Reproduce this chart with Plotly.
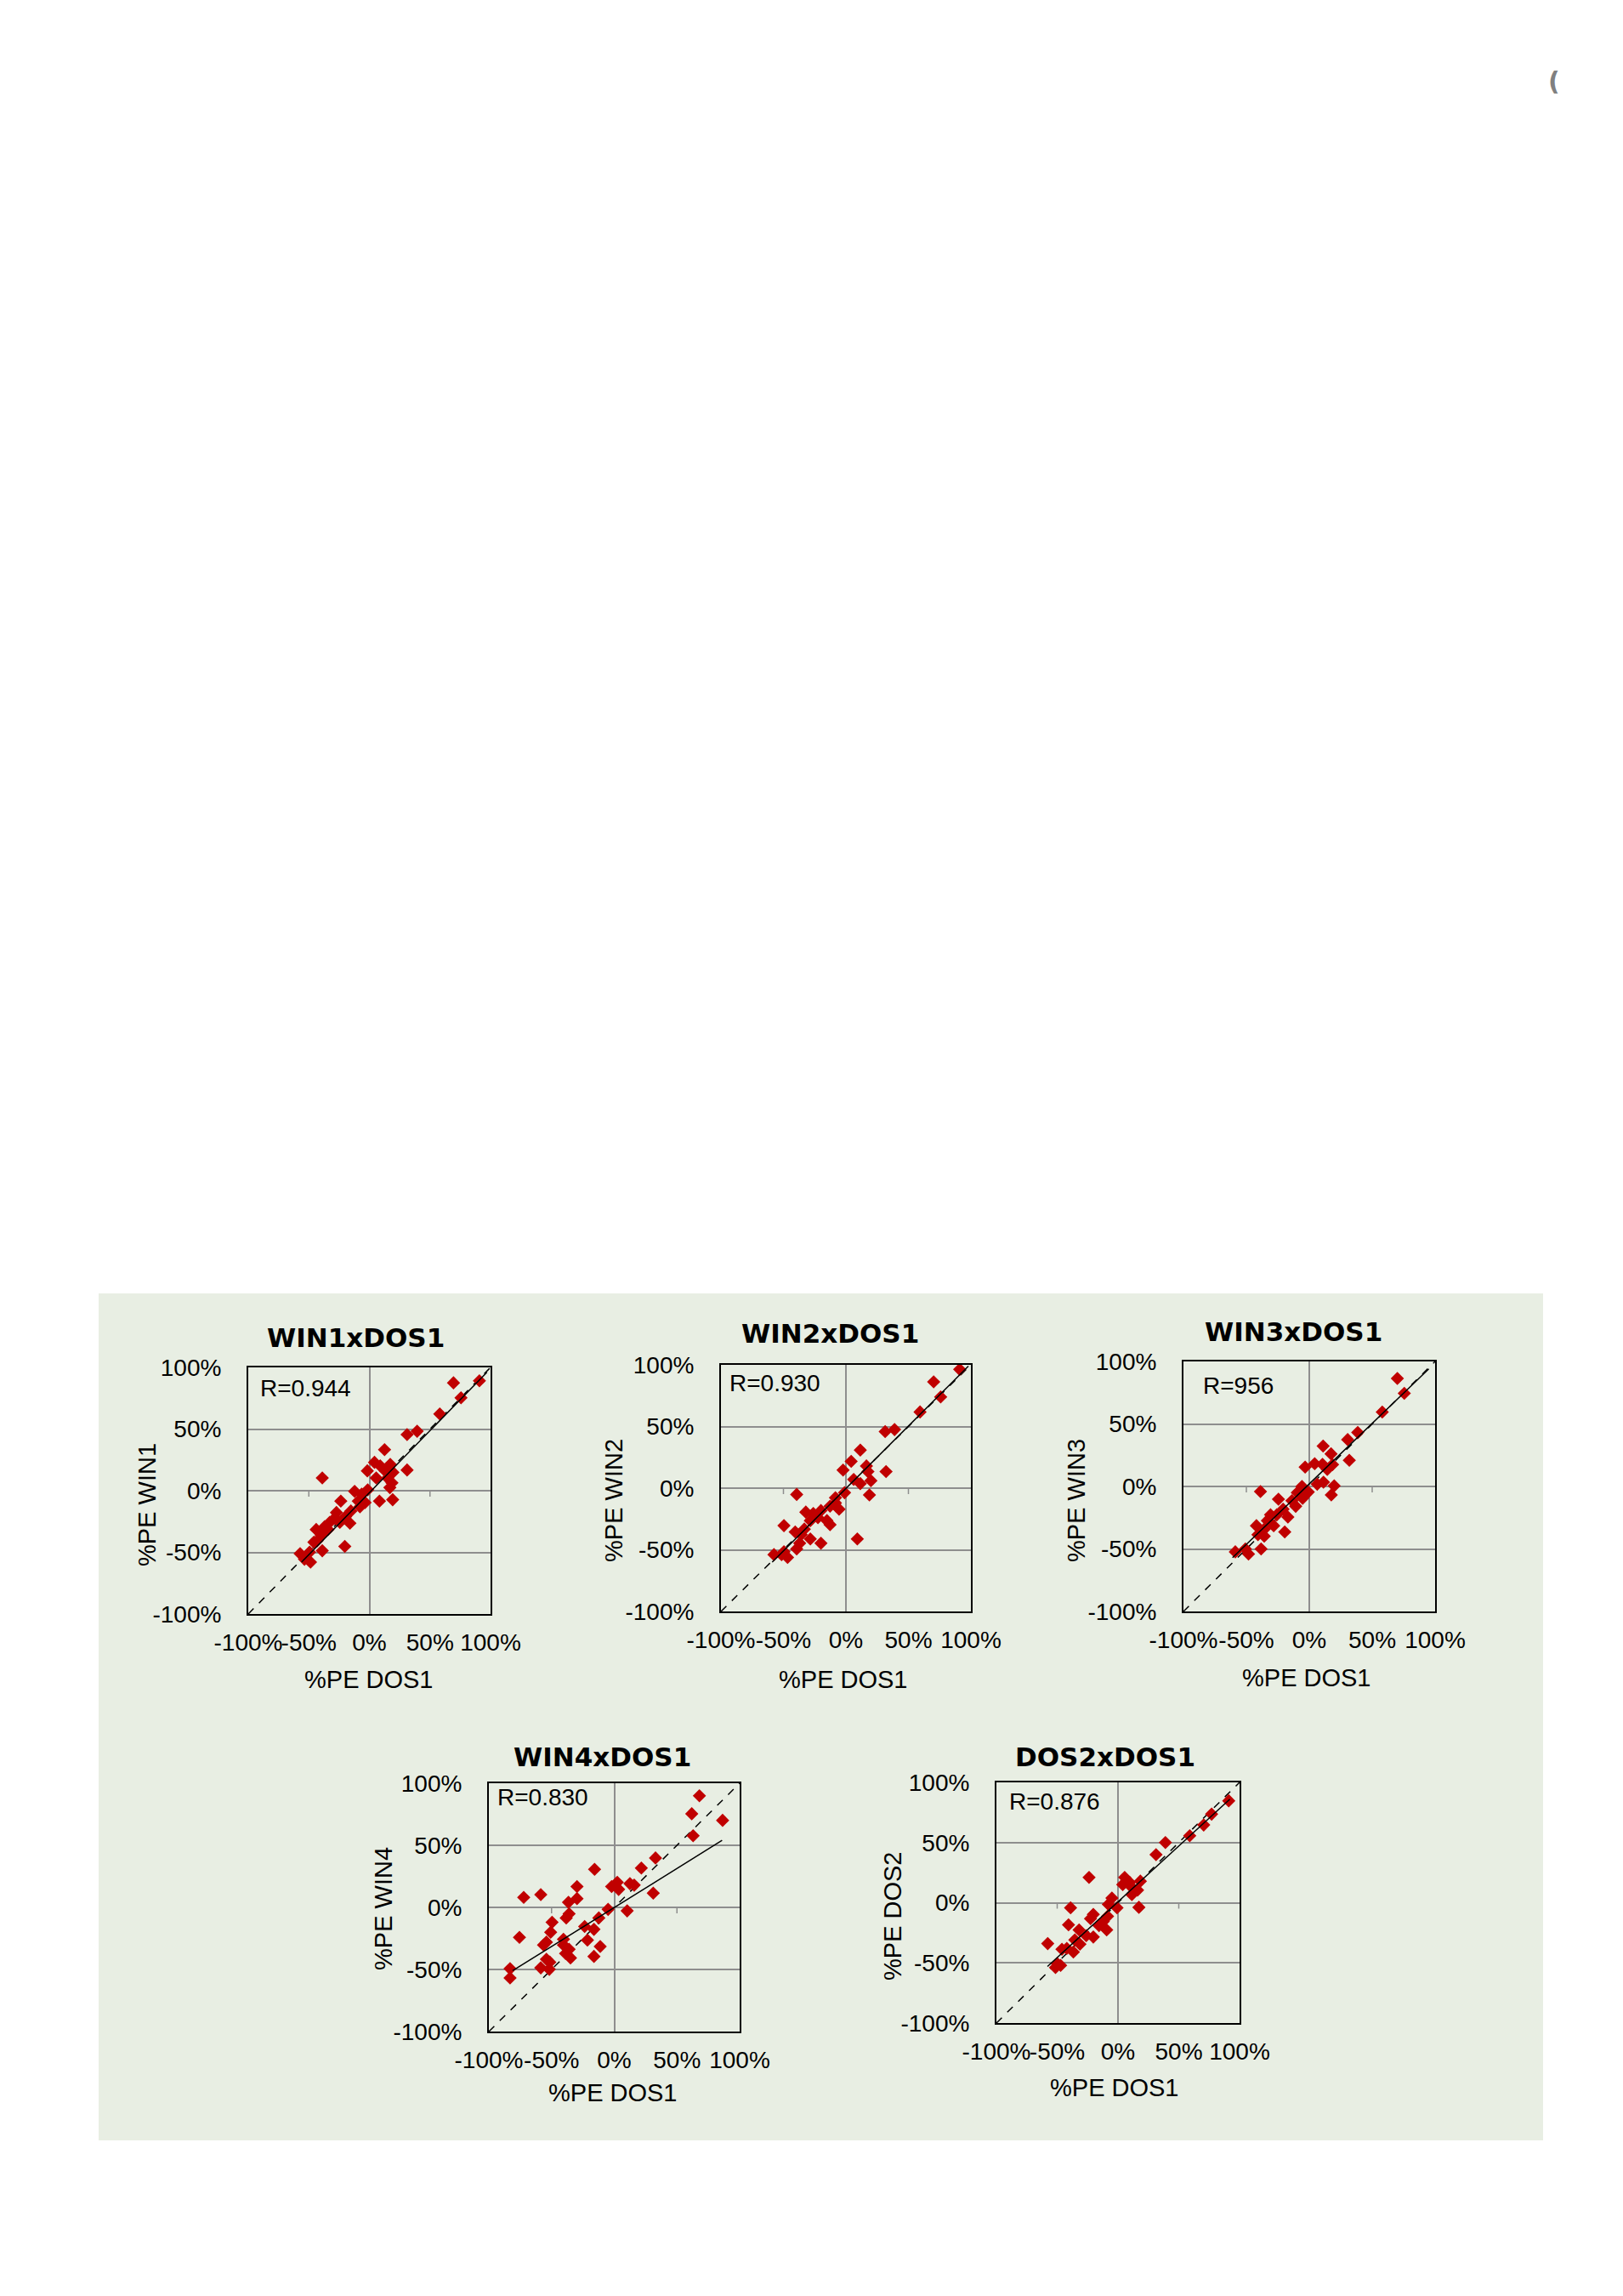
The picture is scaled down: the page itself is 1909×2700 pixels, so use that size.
import plotly.graph_objects as go

W, H = 1909, 2700

# %PE DOS1 (x) vs the other method (y)
WIN1_X = [90.8, 69.4, 75.6, 58.1, 31.1, 39.4, 12.5, 4.2, -1.7, 8.9, 17.2, 13.1, 31.1, 19.4, 5.6,
          15.0, 18.6, 16.9, -38.9, -12.2, -6.4, -1.4, 8.3, 19.2, -23.6, -9.2, -3.6, -7.8, -15.3,
          -27.2, -28.6, -19.7, -16.1, -24.4, -32.8, -36.9, -43.9, -34.2, -39.7, -43.1, -38.9,
          -20.3, -57.2, -49.4, -53.6, -48.6, -45.8]
WIN1_Y = [89.1, 87.5, 75.3, 62.2, 45.5, 48.2, 33.3, 23.0, 16.1, 20.2, 21.4, 16.1, 16.8, 14.9, 10.3,
          10.3, 6.4, 2.5, 10.3, -0.5, -2.8, 0.7, -8.5, -7.3, -8.5, -8.5, -9.6, -13.1, -16.5,
          -17.7, -22.3, -21.1, -26.4, -25.7, -25.7, -29.2, -31.5, -31.5, -36.0, -40.6, -48.7,
          -45.2, -51.0, -49.8, -55.6, -57.9, -41.8]

WIN2_X = [91.0, 70.2, 75.8, 59.3, 31.4, 38.9, 11.5, 4.2, -2.3, 32.1, 16.4, 17.6, 6.2, 11.5, 20.0,
          18.8, -1.1, -39.4, -8.4, -8.4, -5.5, -12.7, -32.1, -26.1, -20.0, -22.4, -15.2, -12.7,
          -28.5, -49.6, -40.6, -35.8, -33.3, -28.5, -37.0, -20.0, -39.4, 9.1, -57.6, -49.6,
          -46.7, -51.5]
WIN2_Y = [96.3, 86.2, 74.0, 61.8, 45.9, 47.5, 30.9, 21.7, 14.7, 13.4, 18.0, 13.4, 7.1, 3.7, 6.0,
          -5.5, -3.7, -5.1, -7.8, -12.0, -17.1, -14.7, -19.4, -20.5, -18.2, -24.0, -26.3, -29.7,
          -26.3, -30.4, -35.5, -37.8, -33.2, -41.2, -44.7, -44.7, -49.3, -41.2, -53.9, -51.6,
          -56.2, -53.9]

WIN3_X = [70.0, 75.5, 58.0, 38.5, 30.5, 31.8, 11.0, 17.3, 18.5, 4.3, -3.3, 10.5, 14.3, 11.3, 6.3,
          19.8, 17.5, -5.8, -0.8, -9.5, -38.8, -5.3, -13.8, -10.8, -24.5, -20.8, -30.8, -25.8,
          -17.0, -33.3, -28.3, -42.0, -35.8, -19.5, -40.8, -35.8, -38.3, -58.8, -50.8, -48.3]
WIN3_Y = [86.4, 74.5, 59.5, 43.2, 37.5, 20.9, 32.3, 26.1, 17.5, 18.2, 15.5, 17.7, 13.6, 3.4, 1.8,
          0.5, -6.8, 0.0, -4.5, -5.0, -4.1, -9.5, -11.4, -15.9, -10.2, -18.2, -22.7, -22.7,
          -24.5, -27.3, -31.4, -31.4, -34.1, -36.4, -38.6, -39.8, -50.0, -52.3, -50.0, -54.1]

WIN4_X = [67.9, 61.8, 86.4, 62.9, 32.9, 21.6, 31.1, -15.7, -29.7, -72.2, -58.6, -36.5, -29.7,
          -2.1, 2.4, 3.5, 12.5, 15.9, 10.3, -4.9, -36.0, -38.3, -12.3, -49.6, -23.6, -16.2,
          -50.7, -75.6, -54.1, -40.5, -21.4, -56.4, -40.5, -36.0, -11.2, -38.8, -34.9, -16.2,
          -54.1, -51.4, -58.6, -51.8, -83.1, -83.1]
WIN4_Y = [89.9, 75.4, 70.1, 57.7, 39.8, 31.7, 11.5, 30.6, 16.8, 8.0, 10.3, 4.1, 7.1, 16.8, 20.2,
          14.5, 19.1, 17.9, -2.8, -1.6, -5.1, -8.5, -8.5, -12.0, -15.4, -17.7, -20.0, -24.1,
          -28.0, -25.7, -26.4, -30.3, -30.3, -33.8, -31.5, -37.2, -40.7, -39.5, -41.8, -44.1,
          -48.7, -49.9, -49.4, -56.8]

DOS2_X = [91.1, 77.0, 70.5, 59.0, 39.0, 31.3, -23.8, 5.5, 9.5, 18.4, 3.9, 11.4, 16.1, 11.4,
          -5.0, -7.9, -0.8, 17.2, -39.0, -20.3, -22.6, -8.6, -12.1, -40.7, -15.6, -9.3, -32.0,
          -26.1, -20.3, -35.5, -57.8, -31.3, -42.1, -36.7, -46.1, -50.0, -47.2, -51.4]
DOS2_Y = [84.7, 73.6, 64.6, 55.7, 50.0, 39.9, 21.0, 21.0, 17.0, 17.9, 15.1, 12.7, 10.4, 6.8,
          3.8, -1.4, -4.2, -3.8, -4.2, -9.7, -13.2, -11.3, -15.6, -18.4, -19.1, -22.6, -22.6,
          -27.4, -28.5, -30.9, -34.0, -34.4, -38.0, -41.0, -38.7, -50.5, -52.1, -53.8]

# fitted line end points (x0, x1), (y0, y1)
FIT_X = [[-56, 97], [-59, 98], [-61, 95], [-81, 86], [-58, 92]]
FIT_Y = [[-58, 96], [-60, 99], [-57, 94], [-51, 54], [-53, 86]]
IDENT = [[-100, 100], [-100, 100], [-100, 100], [-100, 105], [-100, 100]]

TITLES = ["WIN1xDOS1", "WIN2xDOS1", "WIN3xDOS1", "WIN4xDOS1", "DOS2xDOS1"]
Y_LABELS = ["%PE WIN1", "%PE WIN2", "%PE WIN3", "%PE WIN4", "%PE DOS2"]
X_LABEL = "%PE DOS1"
R_TEXT = ["R=0.944", "R=0.930", "R=956", "R=0.830", "R=0.876"]
TICKS = [-100, -50, 0, 50, 100]
TICK_TEXT = ["-100%", "-50%", "0%", "50%", "100%"]
MINOR_TICKS = [-50, 50]

XS = [WIN1_X, WIN2_X, WIN3_X, WIN4_X, DOS2_X]
YS = [WIN1_Y, WIN2_Y, WIN3_Y, WIN4_Y, DOS2_Y]

# plot boxes in page pixels: left, right, top, bottom
BOXES = [
    (284, 569, 1600, 1890),
    (840, 1134, 1597, 1887),
    (1384, 1680, 1593, 1887),
    (567, 862, 2089, 2381),
    (1164, 1450, 2088, 2371),
]
TITLE_POS = [(410, 1565), (968, 1560), (1513, 1558), (700, 2058), (1292, 2058)]
XLAB_POS = [(426, 1967), (984, 1967), (1529, 1965), (713, 2453), (1303, 2447)]
YLAB_POS = [(165, 1762), (714, 1757), (1258, 1757), (443, 2237), (1042, 2245)]
R_POS = [(296, 1624), (848, 1618), (1405, 1622), (575, 2105), (1177, 2110)]

FONT = "Liberation Sans, Arial, sans-serif"
TITLE_FONT = "DejaVu Sans"
RED = "#c00000"
GRID = "#8e8e8e"


def px(x, y):
    return x / W, 1 - y / H


fig = go.Figure()
annotations = []
shapes = [dict(type="rect", xref="paper", yref="paper", x0=108 / W, x1=1807 / W,
               y0=1 - 2509 / H, y1=1 - 1513 / H, fillcolor="#e8eee3",
               line=dict(width=0), layer="below")]

for i in range(5):
    n = "" if i == 0 else str(i + 1)
    xa, ya = "x" + n, "y" + n
    l, r, t, b = BOXES[i]
    axis_common = dict(
        range=[-100, 100], tickvals=TICKS, ticktext=TICK_TEXT, showline=True, mirror=True,
        linecolor="black", linewidth=2, zeroline=True, zerolinecolor=GRID,
        zerolinewidth=1.5, ticks="", tickfont=dict(family=FONT, size=28, color="black"),
        fixedrange=True, automargin=False, tickangle=0,
    )
    fig.layout["xaxis" + n] = dict(axis_common, domain=[l / W, r / W], anchor=ya,
                                   showgrid=False, ticklabelstandoff=7)
    fig.layout["yaxis" + n] = dict(axis_common, domain=[1 - b / H, 1 - t / H], anchor=xa,
                                   showgrid=True, gridcolor=GRID, gridwidth=1.5,
                                   ticklabelstandoff=24)

    fig.add_trace(go.Scatter(x=IDENT[i], y=IDENT[i], xaxis=xa, yaxis=ya, mode="lines",
                             line=dict(color="black", width=1.5, dash="dash"),
                             cliponaxis=False, showlegend=False, hoverinfo="skip"))
    fig.add_trace(go.Scatter(x=XS[i], y=YS[i], xaxis=xa, yaxis=ya, mode="markers",
                             marker=dict(symbol="diamond", size=12, color=RED),
                             showlegend=False))
    fig.add_trace(go.Scatter(x=FIT_X[i], y=FIT_Y[i], xaxis=xa, yaxis=ya, mode="lines",
                             line=dict(color="black", width=1.5),
                             showlegend=False, hoverinfo="skip"))

    for tv in MINOR_TICKS:
        shapes.append(dict(type="line", xref=xa, yref=ya, x0=tv, x1=tv, ysizemode="pixel",
                           yanchor=0, y0=0, y1=-7, line=dict(color=GRID, width=1.5)))

    tx, ty = px(*TITLE_POS[i])
    annotations.append(dict(text="<b>%s</b>" % TITLES[i], x=tx, y=ty, xref="paper",
                            yref="paper", showarrow=False, xanchor="center", yanchor="middle",
                            font=dict(family=TITLE_FONT, size=31, color="black")))
    lx, ly = px(*XLAB_POS[i])
    annotations.append(dict(text=X_LABEL, x=lx, y=ly, xref="paper", yref="paper",
                            showarrow=False, xanchor="center", yanchor="middle",
                            font=dict(family=FONT, size=29, color="black")))
    vx, vy = px(*YLAB_POS[i])
    annotations.append(dict(text=Y_LABELS[i], x=vx, y=vy, xref="paper", yref="paper",
                            showarrow=False, xanchor="center", yanchor="middle", textangle=-90,
                            font=dict(family=FONT, size=29, color="black")))
    rx, ry = px(*R_POS[i])
    annotations.append(dict(text=R_TEXT[i], x=rx, y=ry, xref="paper", yref="paper",
                            showarrow=False, xanchor="left", yanchor="middle",
                            font=dict(family=FONT, size=28, color="black")))

# stray page mark at the top right corner
annotations.append(dict(text="<b>(</b>", x=1820 / W, y=1 - 87 / H, xref="paper", yref="paper",
                        xanchor="center", yanchor="middle", showarrow=False,
                        font=dict(family=TITLE_FONT, size=30, color="#808080")))

fig.update_layout(
    width=W, height=H,
    margin=dict(l=0, r=0, t=0, b=0),
    paper_bgcolor="white",
    plot_bgcolor="white",
    shapes=shapes,
    annotations=annotations,
)

fig.write_html("out.html")
